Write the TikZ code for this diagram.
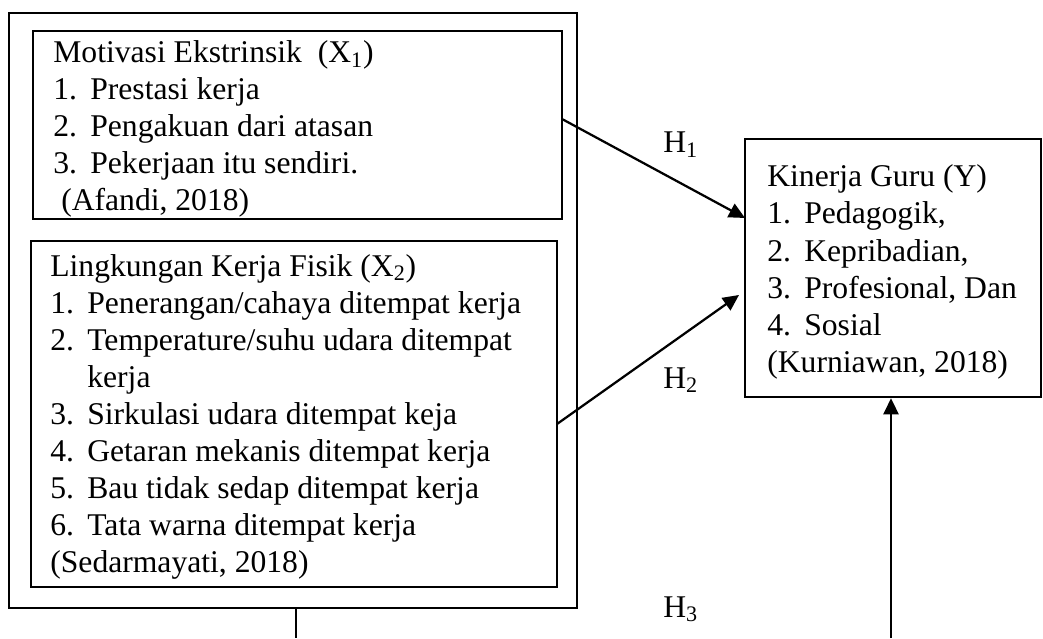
\documentclass[tikz,border=0pt]{standalone}
\usepackage{fontspec}
\setmainfont{Liberation Serif}
\usepackage{tikz}
\usetikzlibrary{positioning,fit,arrows.meta}
\tikzstyle{diagram} = [x = .02cm, y = -.02cm]
\tikzstyle{boxStyle} = [draw, inner sep=0, line width=.055cm]
\tikzstyle{outerStyle} = [draw, inner sep=0, line width=.045cm]
\tikzstyle{listText} = [anchor=base west, inner sep=0, font=\fontsize{18}{21}\selectfont]
\tikzstyle{hypText} = [anchor=base west, inner sep=0, font=\fontsize{18}{21}\selectfont]
\tikzstyle{arrowLine} = [-{Triangle[length=.32cm,width=.3cm]}, line width=.045cm]
\tikzstyle{plainLine} = [line width=.035cm]
\newcommand{\itemNum}[1]{\makebox[.74cm][l]{#1}}
\newcommand{\sub}[1]{\textsubscript{#1}}

\begin{document}
\begin{tikzpicture}[diagram]
  \useasboundingbox (0,0) rectangle (1043,638);
  % boxes
  \node[outerStyle, fit={(9,13) (577,608)}] (outer) {};
  \node[boxStyle, fit={(33,31) (562,219)}] (x1) {};
  \node[boxStyle, fit={(31,241) (557,587)}] (x2) {};
  \node[boxStyle, line width=.05cm, fit={(745,139) (1041,397)}] (y) {};
  % texts
  \foreach \txt [count=\n from 0] in {Motivasi Ekstrinsik\ \ (X\sub{1}), \itemNum{1.}Prestasi kerja, \itemNum{2.}Pengakuan dari atasan, \itemNum{3.}Pekerjaan itu sendiri., {\ (Afandi, 2018)}}
    \node[listText] (x1line\n) at (53, 63 + 37*\n) {\txt};
  \foreach \txt [count=\n from 0] in {Lingkungan Kerja Fisik (X\sub{2}), \itemNum{1.}Penerangan/cahaya ditempat kerja, \itemNum{2.}Temperature/suhu udara ditempat, \itemNum{}kerja, \itemNum{3.}Sirkulasi udara ditempat keja, \itemNum{4.}Getaran mekanis ditempat kerja, \itemNum{5.}Bau tidak sedap ditempat kerja, \itemNum{6.}Tata warna ditempat kerja, {(Sedarmayati, 2018)}}
    \node[listText] (x2line\n) at (50, 276 + 37*\n) {\txt};
  \foreach \txt [count=\n from 0] in {Kinerja Guru (Y), {\itemNum{1.}Pedagogik,}, {\itemNum{2.}Kepribadian,}, {\itemNum{3.}Profesional, Dan}, \itemNum{4.}Sosial, {(Kurniawan, 2018)}}
    \node[listText] (yline\n) at (767, 187 + 37*\n) {\txt};
  % hypotheses
  \node[hypText] (h1) at (663,153) {H\sub{1}};
  \node[hypText] (h2) at (663,388) {H\sub{2}};
  \node[hypText] (h3) at (663,617) {H\sub{3}};
  % connectors
  \coordinate (h1from) at (562,119);
  \coordinate (h1to) at (745,218);
  \coordinate (h2from) at (557,424);
  \coordinate (h2to) at (739,295);
  \coordinate (h3from) at (891,638);
  \coordinate (stubEnd) at (296,638);
  \draw[arrowLine] (h1from) -- (h1to);
  \draw[arrowLine] (h2from) -- (h2to);
  \draw[arrowLine] (h3from) -- (y.south -| h3from);
  \draw[plainLine] (outer.south -| stubEnd) -- (stubEnd);
\end{tikzpicture}
\end{document}
